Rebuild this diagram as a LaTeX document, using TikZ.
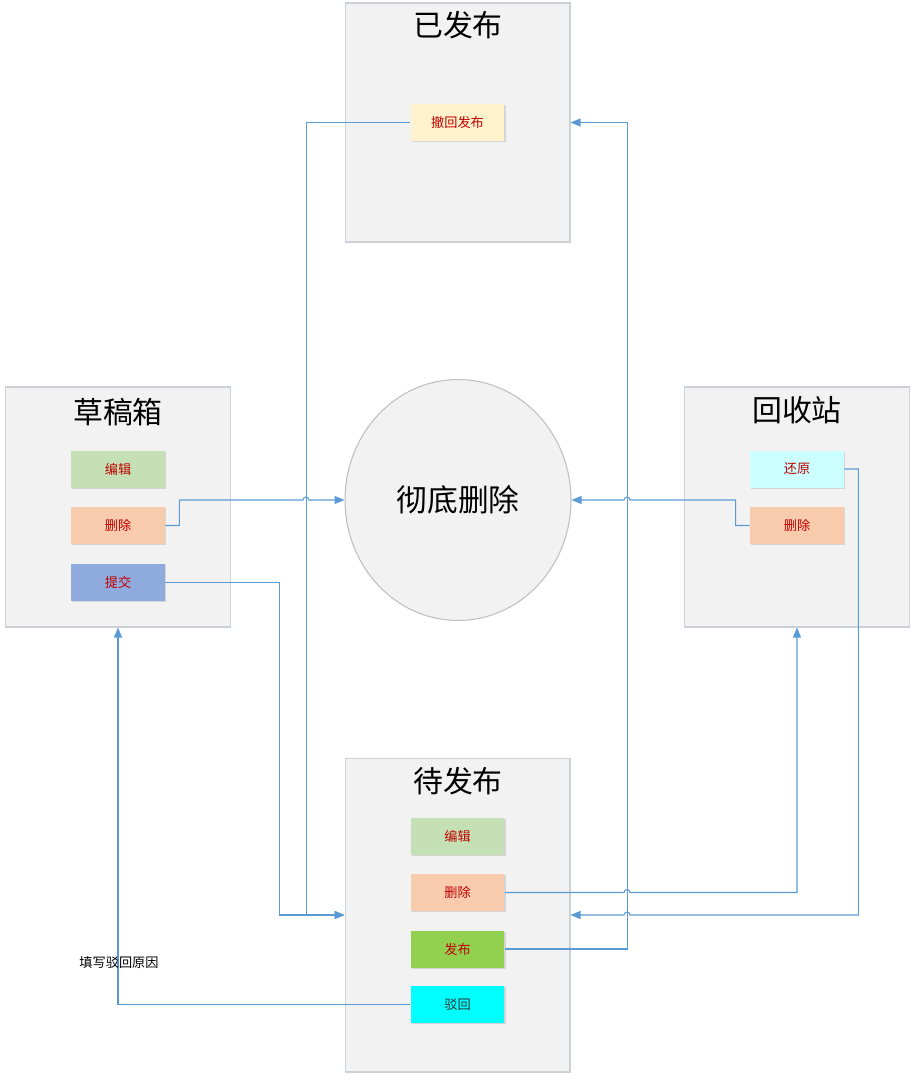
\documentclass[tikz,border=0pt]{standalone}
\usepackage{fontspec}
\setmainfont{Noto Sans CJK SC}
\usetikzlibrary{arrows.meta,shapes.geometric,shadows}
\definecolor{stateFill}{HTML}{F2F2F2}
\definecolor{stateLine}{HTML}{CCD1D8}
\definecolor{circLine}{HTML}{BFBFBF}
\definecolor{flowBlue}{HTML}{5B9BD5}
\definecolor{btnText}{HTML}{C00000}
\definecolor{btnYellow}{HTML}{FFF2CC}
\definecolor{btnGreen}{HTML}{C5E0B4}
\definecolor{btnOrange}{HTML}{F8CBAD}
\definecolor{btnBlue}{HTML}{8FAADC}
\definecolor{btnIce}{HTML}{CCFFFF}
\definecolor{btnLime}{HTML}{92D050}
\definecolor{btnCyan}{HTML}{00FFFF}
\begin{document}
\begin{tikzpicture}[
    x=0.02cm, y=-0.02cm,
    stateBoxStyle/.style={draw=stateLine, fill=stateFill, line width=0.6pt, inner sep=0pt, minimum width=4.5cm},
    stateTitleStyle/.style={font=\fontsize{17pt}{20pt}\selectfont, inner sep=0pt},
    actionBtnStyle/.style={fill=#1, minimum width=1.88cm, minimum height=0.74cm, inner sep=0pt,
        font=\fontsize{7.5pt}{9pt}\selectfont, text=btnText,
        drop shadow={shadow xshift=0.6pt, shadow yshift=-0.6pt, opacity=0.25, fill=gray}},
    flowArrowStyle/.style={flowBlue, line width=0.6pt, ->},
    >={Triangle[length=0.2cm, width=0.16cm]}
]
    \useasboundingbox (0,0) rectangle (916,1081);

    % --- 四个状态框 ---
    \node[stateBoxStyle, minimum height=4.78cm] (tbBox) at (457.5,122.5) {};
    \node[stateBoxStyle, minimum height=4.8cm] (draftBox) at (118,507) {};
    \node[stateBoxStyle, minimum height=4.8cm] (binBox) at (797,507) {};
    \node[stateBoxStyle, minimum height=6.28cm] (pendBox) at (457.5,915) {};

    \node[stateTitleStyle] (tbTitle) at (458,25) {已发布};
    \node[stateTitleStyle] (draftTitle) at (118,412) {草稿箱};
    \node[stateTitleStyle] (binTitle) at (797,410) {回收站};
    \node[stateTitleStyle] (pendTitle) at (458,781) {待发布};

    % 彻底删除
    \node[ellipse, draw=circLine, fill=stateFill, line width=0.6pt, minimum width=4.52cm, minimum height=4.82cm,
        inner sep=0pt, font=\fontsize{17.5pt}{20pt}\selectfont] (circ) at (458,500) {彻底删除};

    % --- 操作按钮 ---
    \node[actionBtnStyle=btnYellow] (tbRevoke) at (457.5,122.5) {撤回发布};

    \node[actionBtnStyle=btnGreen] (draftEdit) at (118,469) {编辑};
    \node[actionBtnStyle=btnOrange] (draftDel) at (118,525.5) {删除};
    \node[actionBtnStyle=btnBlue] (draftSubmit) at (118,582.5) {提交};

    \node[actionBtnStyle=btnIce] (binRestore) at (797,469) {还原};
    \node[actionBtnStyle=btnOrange] (binDel) at (797,525.5) {删除};

    \node[actionBtnStyle=btnGreen] (pendEdit) at (457.5,836) {编辑};
    \node[actionBtnStyle=btnOrange] (pendDel) at (457.5,892.5) {删除};
    \node[actionBtnStyle=btnLime] (pendPub) at (457.5,949) {发布};
    \node[actionBtnStyle=btnCyan, text=black!80] (pendReject) at (457.5,1004.5) {驳回};

    % --- 流转连线 ---
    \draw[flowArrowStyle] (tbRevoke.west) -- ++(-104,0) |- (pendBox.west);
    \draw[flowArrowStyle] (draftSubmit.east) -- ++(114,0) |- (pendBox.west);
    \draw[flowArrowStyle] (draftDel.east) -- ++(14,0) |- (303,500) arc (180:0:0.06cm) -- (circ.west);
    \draw[flowArrowStyle] (binDel.west) -- ++(-14,0) |- (630,500) arc (0:180:0.06cm) -- (circ.east);
    \draw[flowArrowStyle] (pendPub.east) -- ++(122.5,0) |- (tbBox.east);
    \draw[flowArrowStyle] (pendDel.east) -- (624,892.5) arc (180:0:0.06cm) -| (binBox.south);
    \draw[flowArrowStyle] (binRestore.east) -- ++(14,0) |- (630,915) arc (0:180:0.06cm) -- (pendBox.east);
    \draw[flowArrowStyle] (pendReject.west) -| (draftBox.south);

    \node[font=\fontsize{7.5pt}{9pt}\selectfont, inner sep=0pt] (rejectNote) at (119,962) {填写驳回原因};
\end{tikzpicture}
\end{document}
